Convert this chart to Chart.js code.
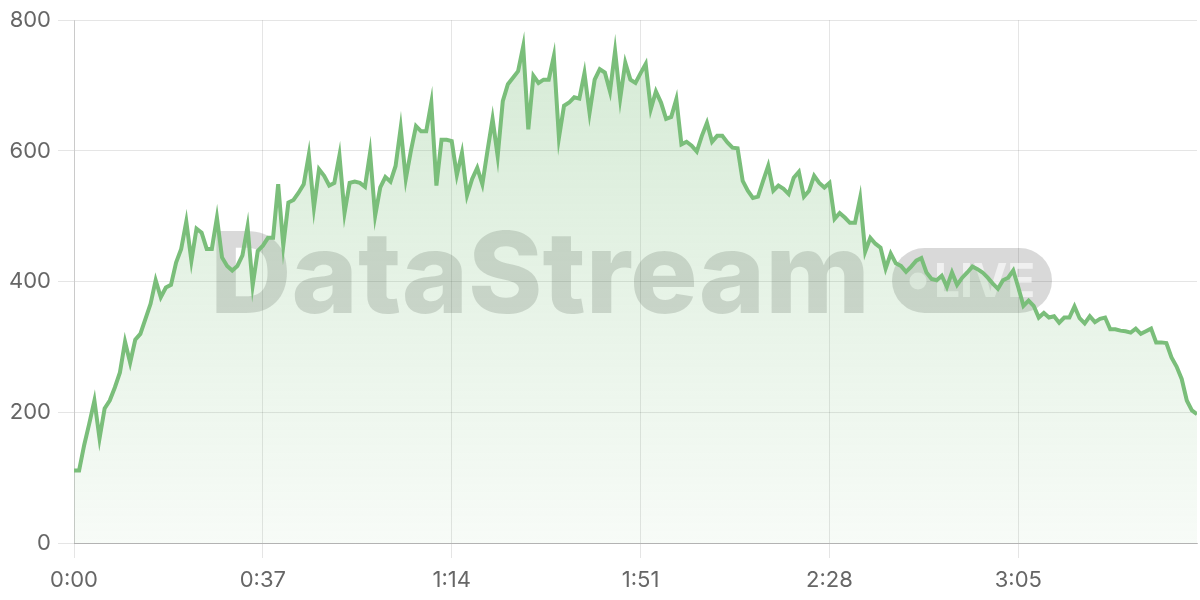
<!DOCTYPE html>
<html>
<head>
<meta charset="utf-8">
<script src="https://cdn.jsdelivr.net/npm/chart.js@4.4.1/dist/chart.umd.min.js"></script>
<style>
  html, body { margin: 0; padding: 0; background: #fff; }
</style>
</head>
<body>
<canvas id="myChart" width="1200" height="600"></canvas>
<script>
// viewers sampled once per second, 0:00 .. 3:40
var viewers = [
  111, 111, 150, 183, 218, 160, 206, 218, 238, 261,
  308, 276, 311, 320, 343, 366, 402, 376, 391, 395,
  429, 450, 492, 432, 481, 475, 450, 450, 498, 437,
  424, 417, 424, 440, 484, 394, 447, 455, 467, 467,
  549, 455, 521, 525, 536, 549, 594, 513, 572, 562,
  547, 551, 593, 505, 551, 553, 551, 545, 597, 501,
  544, 560, 553, 577, 635, 557, 600, 638, 630, 630,
  674, 547, 617, 617, 615, 563, 597, 532, 557, 574,
  549, 600, 649, 592, 676, 702, 712, 722, 760, 633,
  715, 704, 709, 709, 745, 620, 669, 674, 682, 680,
  719, 658, 709, 725, 720, 691, 753, 680, 735, 709,
  704, 719, 733, 664, 691, 674, 649, 652, 679, 610,
  614, 608, 599, 623, 643, 614, 623, 623, 613, 605,
  604, 554, 539, 528, 530, 554, 577, 539, 547, 542,
  534, 559, 568, 530, 539, 562, 551, 544, 551, 496,
  505, 498, 490, 490, 528, 446, 467, 458, 452, 420,
  443, 428, 424, 415, 423, 432, 436, 414, 404, 402,
  409, 392, 414, 395, 406, 414, 423, 419, 414, 406,
  397, 389, 402, 406, 417, 391, 363, 371, 363, 345,
  352, 345, 347, 337, 345, 345, 362, 344, 336, 347,
  338, 343, 345, 327, 327, 325, 324, 322, 328, 320,
  324, 328, 307, 307, 306, 284, 270, 251, 218, 203, 197
];
// one sample per second
var seconds = viewers.map(function (v, i) { return i; });

var tickSeconds = [0, 37, 74, 111, 148, 185];
var tickLabels = ['0:00', '0:37', '1:14', '1:51', '2:28', '3:05'];
var yTicks = [0, 200, 400, 600, 800];

var lineColor = 'rgb(122, 190, 122)';

// grey "DataStream LIVE" watermark behind the line
var watermark = {
    id: 'watermark',
    beforeDatasetsDraw: function (chart) {
        var ctx = chart.ctx;
        ctx.save();
        ctx.fillStyle = 'rgba(0, 0, 0, 0.15)';
        ctx.textBaseline = 'alphabetic';
        ctx.textAlign = 'left';
        var size = 115;
        ctx.font = '800 ' + size + 'px Inter';
        var w = ctx.measureText('DataStream').width;
        size = size * 660 / w;
        ctx.font = '800 ' + size + 'px Inter';
        ctx.fillText('DataStream', 210, 313);

        // pill
        var x = 892, y = 248, pw = 160, ph = 65, r = ph / 2;
        ctx.beginPath();
        ctx.moveTo(x + r, y);
        ctx.lineTo(x + pw - r, y);
        ctx.arc(x + pw - r, y + r, r, -Math.PI / 2, Math.PI / 2);
        ctx.lineTo(x + r, y + ph);
        ctx.arc(x + r, y + r, r, Math.PI / 2, Math.PI * 1.5);
        ctx.closePath();
        ctx.fill();

        ctx.fillStyle = 'rgba(255, 255, 255, 0.6)';
        ctx.beginPath();
        ctx.arc(918, 281, 8.5, 0, Math.PI * 2);
        ctx.fill();
        ctx.font = '700 46px Inter';
        ctx.fillText('LIVE', 934, 297);
        ctx.restore();
    }
};

var ctx = document.getElementById('myChart').getContext('2d');
var myChart = new Chart(ctx, {
    type: 'line',
    data: {
        labels: seconds,
        datasets: [{
            data: viewers.map(function (v, i) { return { x: seconds[i], y: v }; }),
            borderColor: lineColor,
            borderWidth: 4,
            pointRadius: 0,
            tension: 0,
            fill: 'origin',
            backgroundColor: function (context) {
                var area = context.chart.chartArea;
                if (!area) return 'rgba(122, 190, 122, 0.2)';
                var g = context.chart.ctx.createLinearGradient(0, area.top, 0, area.bottom);
                g.addColorStop(0, 'rgba(122, 190, 122, 0.32)');
                g.addColorStop(1, 'rgba(122, 190, 122, 0.06)');
                return g;
            }
        }]
    },
    options: {
        responsive: false,
        animation: false,
        layout: { padding: { top: 19, right: 3, left: 0, bottom: 0 } },
        plugins: {
            legend: { display: false },
            tooltip: { enabled: false }
        },
        scales: {
            x: {
                type: 'linear',
                min: 0,
                max: 220,
                afterBuildTicks: function (scale) {
                    scale.ticks = tickSeconds.map(function (s) { return { value: s }; });
                },
                afterFit: function (scale) { scale.height = 57; },
                grid: { color: 'rgba(0, 0, 0, 0.1)', tickLength: 15 },
                border: { color: 'rgba(0, 0, 0, 0.22)' },
                ticks: {
                    padding: 9,
                    maxRotation: 0,
                    color: '#666',
                    font: { family: 'Inter', size: 22 },
                    callback: function (value) {
                        return tickLabels[tickSeconds.indexOf(value)];
                    }
                }
            },
            y: {
                min: 0,
                max: 800,
                afterBuildTicks: function (scale) {
                    scale.ticks = yTicks.map(function (v) { return { value: v }; });
                },
                afterFit: function (scale) { scale.width = 74; },
                grid: { color: 'rgba(0, 0, 0, 0.1)', tickLength: 16 },
                border: { color: 'rgba(0, 0, 0, 0.12)' },
                ticks: {
                    padding: 7,
                    color: '#666',
                    font: { family: 'Inter', size: 22 }
                }
            }
        }
    },
    plugins: [watermark]
});
</script>
</body>
</html>
